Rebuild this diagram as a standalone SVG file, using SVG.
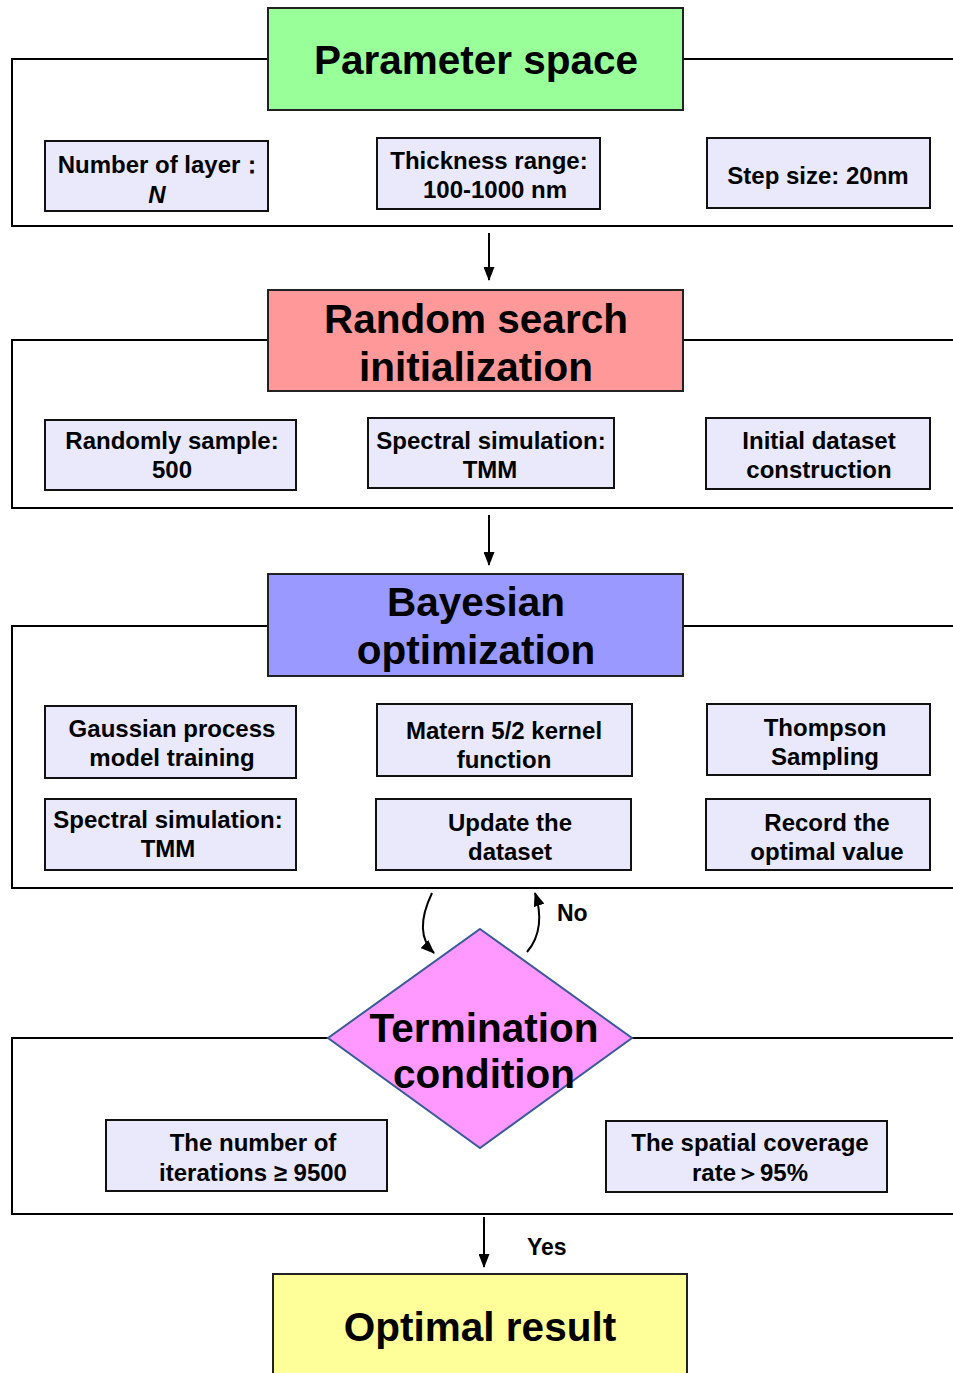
<svg xmlns="http://www.w3.org/2000/svg" width="953" height="1373" viewBox="0 0 953 1373">
<defs>
<style>
.frame{fill:none;stroke:#000;stroke-width:2}
.head{stroke:#222;stroke-width:2}
.sub{fill:#e9e9fb;stroke:#111;stroke-width:2}
.ht{font-family:"Liberation Sans",Arial,sans-serif;font-weight:bold;font-size:40.5px;text-anchor:middle;fill:#000}
.st{font-family:"Liberation Sans",Arial,sans-serif;font-weight:bold;font-size:24px;text-anchor:middle;fill:#000}
.lbl{font-family:"Liberation Sans",Arial,sans-serif;font-weight:bold;font-size:23px;fill:#000}
.conn{fill:none;stroke:#000;stroke-width:2}
</style>
<marker id="ah" viewBox="0 0 14 11" refX="13" refY="5.5" markerWidth="14" markerHeight="11" markerUnits="userSpaceOnUse" orient="auto">
<path d="M0,0 L14,5.5 L0,11 Z" fill="#000"/>
</marker>
</defs>
<rect width="953" height="1373" fill="#fff"/>

<g id="frames">
<rect class="frame" x="12" y="59" width="960" height="167"/>
<rect class="frame" x="12" y="340" width="960" height="168"/>
<rect class="frame" x="12" y="626" width="960" height="262"/>
<rect class="frame" x="12" y="1038" width="960" height="176"/>
</g>

<g id="parameter-space">
<rect class="head" x="268" y="8" width="415" height="102" fill="#99ff99"/>
<text class="ht" x="476" y="74">Parameter space</text>
</g>
<g id="number-of-layer">
<rect class="sub" x="45" y="141" width="223" height="70"/>
<text class="st" x="161" y="173">Number of layer：</text>
<text class="st" x="157" y="203" font-style="italic">N</text>
</g>
<g id="thickness-range">
<rect class="sub" x="377" y="138" width="223" height="71"/>
<text class="st" x="489" y="169">Thickness range:</text>
<text class="st" x="495" y="198">100-1000 nm</text>
</g>
<g id="step-size">
<rect class="sub" x="707" y="138" width="223" height="70"/>
<text class="st" x="818" y="184">Step size: 20nm</text>
</g>

<g id="random-search">
<rect class="head" x="268" y="290" width="415" height="101" fill="#ff9999"/>
<text class="ht" x="476" y="333">Random search</text>
<text class="ht" x="476" y="381">initialization</text>
</g>
<g id="randomly-sample">
<rect class="sub" x="45" y="420" width="251" height="70"/>
<text class="st" x="172" y="449">Randomly sample:</text>
<text class="st" x="172" y="478">500</text>
</g>
<g id="spectral-simulation-1">
<rect class="sub" x="368" y="418" width="246" height="70"/>
<text class="st" x="491" y="449">Spectral simulation:</text>
<text class="st" x="490" y="478">TMM</text>
</g>
<g id="initial-dataset">
<rect class="sub" x="706" y="418" width="224" height="71"/>
<text class="st" x="819" y="449">Initial dataset</text>
<text class="st" x="819" y="478">construction</text>
</g>

<g id="bayesian-optimization">
<rect class="head" x="268" y="574" width="415" height="102" fill="#9999ff"/>
<text class="ht" x="476" y="616">Bayesian</text>
<text class="ht" x="476" y="664">optimization</text>
</g>
<g id="gaussian-process">
<rect class="sub" x="45" y="706" width="251" height="72"/>
<text class="st" x="172" y="737">Gaussian process</text>
<text class="st" x="172" y="766">model training</text>
</g>
<g id="matern-kernel">
<rect class="sub" x="377" y="704" width="255" height="72"/>
<text class="st" x="504" y="739">Matern 5/2 kernel</text>
<text class="st" x="504" y="768">function</text>
</g>
<g id="thompson-sampling">
<rect class="sub" x="707" y="704" width="223" height="71"/>
<text class="st" x="825" y="736">Thompson</text>
<text class="st" x="825" y="765">Sampling</text>
</g>
<g id="spectral-simulation-2">
<rect class="sub" x="45" y="799" width="251" height="71"/>
<text class="st" x="168" y="828">Spectral simulation:</text>
<text class="st" x="168" y="857">TMM</text>
</g>
<g id="update-dataset">
<rect class="sub" x="376" y="799" width="255" height="71"/>
<text class="st" x="510" y="831">Update the</text>
<text class="st" x="510" y="860">dataset</text>
</g>
<g id="record-optimal">
<rect class="sub" x="706" y="799" width="224" height="71"/>
<text class="st" x="827" y="831">Record the</text>
<text class="st" x="827" y="860">optimal value</text>
</g>

<g id="termination-condition">
<polygon points="480,929 632,1038 480,1148 328,1038" fill="#ff99ff" stroke="#3a5a9a" stroke-width="2"/>
<text class="ht" x="484" y="1042">Termination</text>
<text class="ht" x="484" y="1088">condition</text>
</g>
<g id="iterations">
<rect class="sub" x="106" y="1120" width="281" height="71"/>
<text class="st" x="253" y="1151">The number of</text>
<text class="st" x="253" y="1181">iterations ≥ 9500</text>
</g>
<g id="coverage">
<rect class="sub" x="606" y="1121" width="281" height="71"/>
<text class="st" x="750" y="1151">The spatial coverage</text>
<text class="st" x="750" y="1181">rate＞95%</text>
</g>

<g id="optimal-result">
<rect class="head" x="273" y="1274" width="414" height="110" fill="#ffff99"/>
<text class="ht" x="480" y="1341">Optimal result</text>
</g>

<g id="connectors">
<line class="conn" x1="489" y1="233" x2="489" y2="280" marker-end="url(#ah)"/>
<line class="conn" x1="489" y1="515" x2="489" y2="565" marker-end="url(#ah)"/>
<path class="conn" d="M432,893 C421,916 418,938 434,953" marker-end="url(#ah)"/>
<path class="conn" d="M527,952 C541,936 542,914 535,893" marker-end="url(#ah)"/>
<line class="conn" x1="484" y1="1217" x2="484" y2="1267" marker-end="url(#ah)"/>
<text class="lbl" x="557" y="921">No</text>
<text class="lbl" x="527" y="1255">Yes</text>
</g>
</svg>
